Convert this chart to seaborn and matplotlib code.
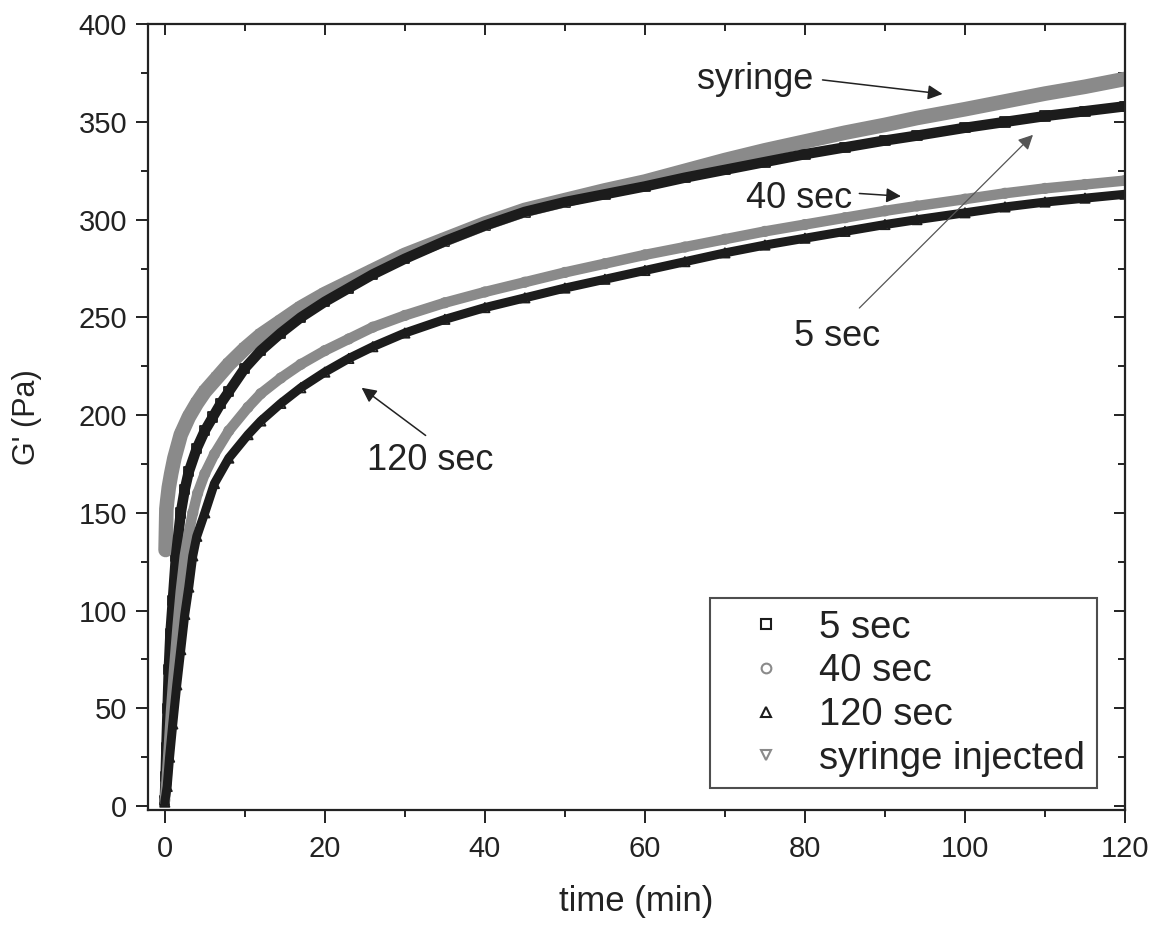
# IMPORTING LIBRARIES

import pandas as pd
import matplotlib
matplotlib.use('Agg')
import matplotlib.pyplot as plt
from matplotlib.lines import Line2D
from matplotlib.ticker import MultipleLocator
import seaborn as sns


# DATA

t_syringe = [0.1, 0.2, 0.3, 0.5, 0.8, 1.2, 2, 3, 4, 5, 6.5, 8, 10, 12, 14.5, 17, 20, 23, 26, 30,
             35, 40, 45, 50, 55, 60, 65, 70, 75, 80, 85, 90, 94, 100, 105, 110, 115, 120]
g_syringe = [131, 152, 156, 163, 170, 178, 190, 199, 206, 212, 219, 226, 234, 241, 248, 255, 262, 268, 274, 282,
             290, 298, 305, 310, 315, 319.5, 325, 330.5, 335.5, 340, 344.5, 348.5, 352, 356.5, 360.5, 364.5, 368, 372]

t_5sec = [0, 0.1, 0.2, 0.35, 0.5, 0.7, 1.0, 1.4, 2, 2.5, 3, 4, 5, 6, 7, 8, 10, 12, 14.5, 17, 20, 23, 26, 30,
          35, 40, 45, 50, 55, 60, 65, 70, 75, 80, 85, 90, 94, 100, 105, 110, 115, 120]
g_5sec = [3, 15, 30, 50, 70, 88, 105, 128, 150, 162, 171, 183, 192, 199, 206, 212, 224, 233, 242, 250, 258, 265, 272, 280,
          289, 297, 304, 309, 313, 317, 321.5, 325.5, 329.5, 333.5, 337, 340.5, 343, 347, 350, 353, 355.5, 358]

t_40sec = [0, 0.2, 0.5, 0.8, 1.2, 1.6, 2.0, 2.5, 3, 3.5, 4.1, 5, 6.2, 8, 10.4, 12, 14.5, 17, 20, 23, 26, 30,
           35, 40, 45, 50, 55, 60, 65, 70, 75, 80, 85, 90, 94, 100, 105, 110, 115, 120]
g_40sec = [3, 12, 30, 50, 72, 92, 110, 128, 140, 150, 160, 170, 180, 192, 204, 211, 219, 226, 233, 239, 245, 251,
           257.5, 263, 268, 273, 277.5, 282, 286, 290, 294, 297.5, 301, 304.5, 307, 310.5, 313.5, 316, 318, 320]

t_120sec = [0, 0.3, 0.6, 1.0, 1.5, 2.0, 2.5, 3, 3.5, 4, 5, 6.2, 8, 10.4, 12, 14.5, 17, 20, 23, 26, 30,
            35, 40, 45, 50, 55, 60, 65, 70, 75, 80, 85, 90, 94, 100, 105, 110, 115, 120]
g_120sec = [2, 10, 25, 42, 62, 80, 98, 112, 128, 138, 150, 165, 178, 190, 197, 206, 214, 222, 229, 235, 242,
            249, 255, 260, 265, 269.5, 274, 278.5, 283, 287, 290.5, 294, 297.5, 300, 303.5, 306.5, 309, 311, 313]


# BUILDING THE DATAFRAME

df = pd.concat([
    pd.DataFrame({'time': t_syringe, 'G': g_syringe, 'sample': 'syringe injected'}),
    pd.DataFrame({'time': t_5sec, 'G': g_5sec, 'sample': '5 sec'}),
    pd.DataFrame({'time': t_40sec, 'G': g_40sec, 'sample': '40 sec'}),
    pd.DataFrame({'time': t_120sec, 'G': g_120sec, 'sample': '120 sec'}),
])

gray = '#8a8a8a'
black = '#1c1c1c'
ink = '#222222'
style = {
    'syringe injected': (gray, 'v', 10.5),
    '5 sec': (black, 's', 7.5),
    '40 sec': (gray, 'o', 7.5),
    '120 sec': (black, '^', 6.5),
}


# PLOTTING

sns.set_style('ticks')
plt.rcParams['font.family'] = ['Liberation Sans', 'DejaVu Sans']

fig = plt.figure(figsize=(11.67, 9.31), dpi=100)
ax = fig.add_axes([0.1268, 0.130, 0.8372, 0.844])

for name in ['syringe injected', '5 sec', '40 sec', '120 sec']:
    color, marker, lw = style[name]
    sub = df[df['sample'] == name]
    sns.lineplot(data=sub, x='time', y='G', ax=ax, color=color, lw=lw,
                 solid_capstyle='round', legend=False)
    sns.scatterplot(data=sub, x='time', y='G', ax=ax, marker=marker, s=45,
                    facecolor='none', edgecolor=color, linewidth=1.3, legend=False)

ax.set_xlim(-2.1, 120)
ax.set_ylim(-2, 400)
ax.xaxis.set_major_locator(MultipleLocator(20))
ax.xaxis.set_minor_locator(MultipleLocator(10))
ax.yaxis.set_major_locator(MultipleLocator(50))
ax.yaxis.set_minor_locator(MultipleLocator(25))

for s in ax.spines.values():
    s.set_linewidth(1.6)
    s.set_color(ink)

ax.tick_params(which='both', direction='out', width=1.4, colors=ink, labelsize=21)
ax.tick_params(which='major', length=9, pad=6)
ax.tick_params(which='minor', length=5)
ax.tick_params(axis='x', which='major', pad=9)

# inward ticks on the top and right
ax_top = ax.secondary_xaxis('top')
ax_top.xaxis.set_major_locator(MultipleLocator(20))
ax_top.xaxis.set_minor_locator(MultipleLocator(10))
ax_top.tick_params(which='both', direction='in', width=1.4, colors=ink, labeltop=False)
ax_top.tick_params(which='major', length=8)
ax_top.tick_params(which='minor', length=5)
ax_top.spines['top'].set_visible(False)
ax_right = ax.secondary_yaxis('right')
ax_right.yaxis.set_major_locator(MultipleLocator(50))
ax_right.yaxis.set_minor_locator(MultipleLocator(25))
ax_right.tick_params(which='both', direction='in', width=1.4, colors=ink, labelright=False)
ax_right.tick_params(which='major', length=8)
ax_right.tick_params(which='minor', length=5)
ax_right.spines['right'].set_visible(False)

ax.set_xlabel('time (min)', fontsize=25, color=ink, labelpad=16)
ax.set_ylabel("G' (Pa)", fontsize=22, color=ink, labelpad=26)


# ANNOTATIONS

arrow = dict(arrowstyle='-|>', color=ink, lw=1.1, mutation_scale=22, shrinkA=0, shrinkB=0)
ax.text(73.8, 371.5, 'syringe', fontsize=26, ha='center', va='center', color=ink)
ax.annotate('', xy=(97.2, 364.3), xytext=(82.2, 371.5), arrowprops=arrow)
ax.text(79.3, 311, '40 sec', fontsize=26, ha='center', va='center', color=ink)
ax.annotate('', xy=(92, 312), xytext=(86.8, 313.4), arrowprops=arrow)
ax.text(84, 240, '5 sec', fontsize=26, ha='center', va='center', color=ink)
ax.annotate('', xy=(108.5, 343.4), xytext=(86.8, 254.8),
            arrowprops=dict(arrow, color='#555555', lw=0.9))
ax.text(33.2, 176.8, '120 sec', fontsize=26, ha='center', va='center', color=ink)
ax.annotate('', xy=(24.6, 214), xytext=(32.6, 189.6), arrowprops=arrow)


# LEGEND

handles = []
for name in ['5 sec', '40 sec', '120 sec', 'syringe injected']:
    color, marker, lw = style[name]
    handles.append(Line2D([], [], ls='none', marker=marker, ms=7, mfc='none', mec=color, mew=1.5, label=name))
leg = ax.legend(handles=handles, loc='lower right', bbox_to_anchor=(0.971, 0.028), borderaxespad=0,
                fontsize=27.5, frameon=True, fancybox=False, edgecolor=ink, labelspacing=0.2,
                handletextpad=0.25, borderpad=0.3, handlelength=2.3)
leg.get_frame().set_linewidth(1.5)
for txt in leg.get_texts():
    txt.set_color(ink)

plt.savefig('out.png', dpi=100)
